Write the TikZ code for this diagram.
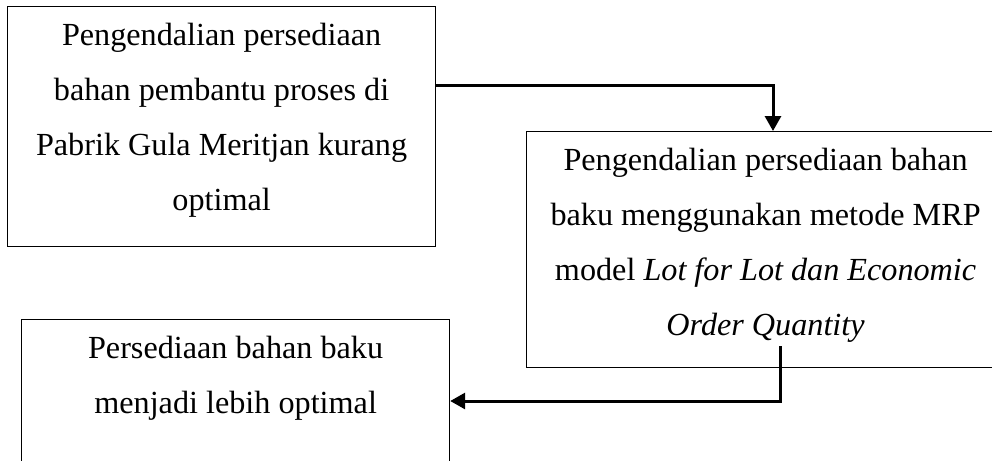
\documentclass[tikz,border=0pt]{standalone}
\usepackage{fontspec}
\setmainfont{Liberation Serif}
\usetikzlibrary{arrows.meta}
\begin{document}
\begin{tikzpicture}[x=0.5pt,y=-0.5pt,
    box/.style={draw,line width=0.6pt,anchor=north west,inner sep=0pt,align=flush center,
      font=\fontsize{16.1pt}{27.4pt}\selectfont,text height=19.5pt},
    flow/.style={-{Triangle[length=7.5pt,width=8pt]},line width=1.5pt}]
    \useasboundingbox (0,0) rectangle (992,461);
    \node[box,text width=214pt,text depth=100.5pt] (masalah) at (7,6) {Pengendalian persediaan\\ bahan pembantu proses di\\ Pabrik Gula Meritjan kurang\\ optimal};
    \node[box,text width=239pt,text depth=98.5pt] (metode) at (526,131) {Pengendalian persediaan bahan\\ baku menggunakan metode MRP\\ model \textit{Lot for Lot dan Economic}\\ \textit{Order Quantity}};
    \node[box,text width=214pt,text depth=61pt] (hasil) at (21,319) {Persediaan bahan baku\\ menjadi lebih optimal};

    \coordinate (tekuk1) at (773,85);
    \coordinate (mulai2) at (780,346);
    \coordinate (tekuk2) at (780,401);

    \draw[flow] (masalah.east |- tekuk1) -- (tekuk1) -- (metode.north -| tekuk1);
    \draw[flow] (mulai2) -- (tekuk2) -- (hasil.east |- tekuk2);
\end{tikzpicture}
\end{document}
